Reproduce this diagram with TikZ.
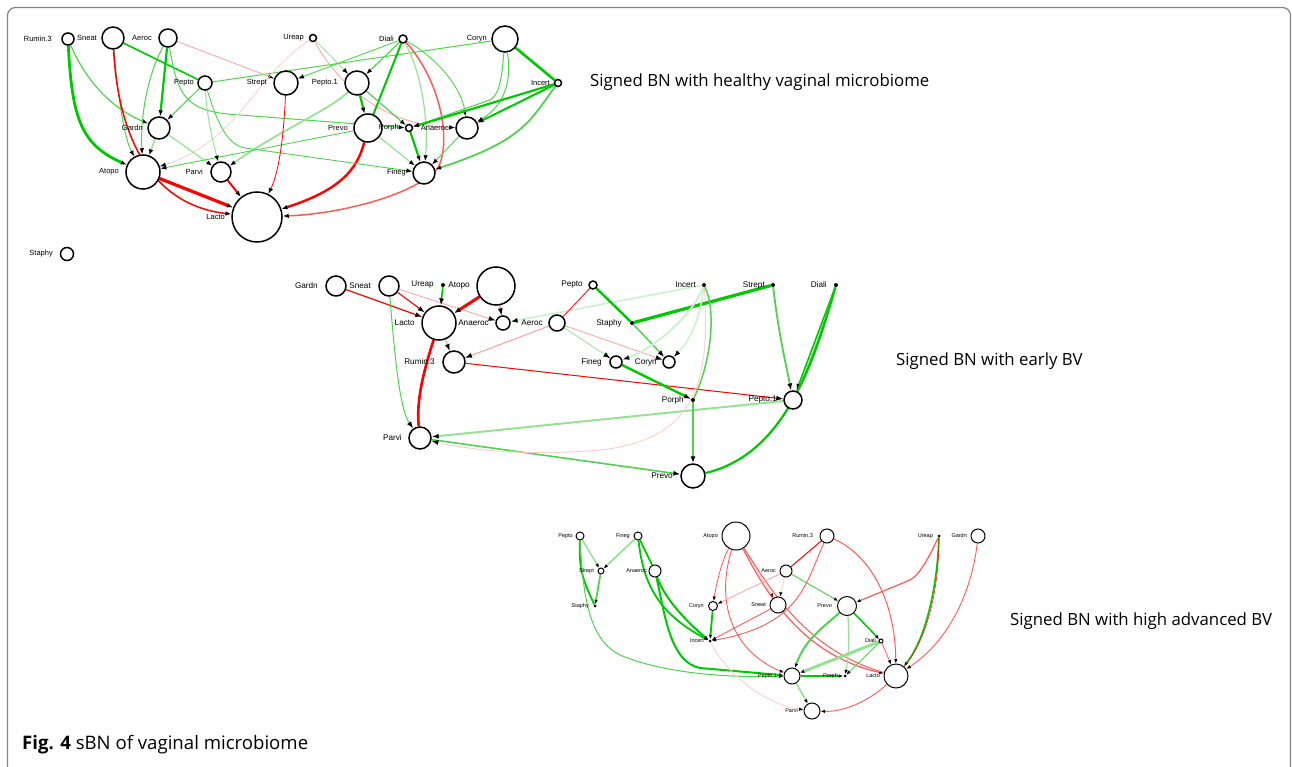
\documentclass[tikz,border=0pt]{standalone}
\usepackage{fontspec}
\usetikzlibrary{arrows.meta,backgrounds}
\newfontfamily\labfont{Liberation Sans}
\newfontfamily\ttlfont{Open Sans}
\definecolor{gA}{RGB}{0,200,0}
\definecolor{gB}{RGB}{80,210,80}
\definecolor{gC}{RGB}{150,225,150}
\definecolor{gD}{RGB}{205,240,205}
\definecolor{rA}{RGB}{255,0,0}
\definecolor{rB}{RGB}{255,90,90}
\definecolor{rC}{RGB}{255,160,160}
\definecolor{rD}{RGB}{255,205,205}
\definecolor{frame}{RGB}{130,130,130}
\tikzset{
  bnode/.style={circle, draw=black, fill=white, line width=1.5pt, inner sep=0pt, minimum size=#1},
  snode/.style={circle, draw=black, fill=white, line width=1pt, inner sep=0pt, minimum size=#1},
  dotn/.style={circle, fill=black, inner sep=0pt, minimum size=#1},
  labA/.style={font=\labfont\fontsize{7.5}{8}\selectfont, inner sep=0pt, anchor=east},
  labB/.style={font=\labfont\fontsize{8.2}{9}\selectfont, inner sep=0pt, anchor=east},
  labC/.style={font=\labfont\fontsize{5.5}{6}\selectfont, inner sep=0pt, anchor=east},
  tipA/.style={-{Latex[length=6pt,width=4.5pt,color=black]}},
  tipB/.style={-{Latex[length=7pt,width=5pt,color=black]}},
  tipC/.style={-{Latex[length=4.5pt,width=3.5pt,color=black]}},
  title/.style={font=\ttlfont\fontsize{16.8}{18}\selectfont, inner sep=0pt, anchor=west},
}
% node: name, x, y, shape style, label right end, label text, label style
\newcommand\bnnode[7]{%
  \node[#4] (#1) at (#2,#3) {};
  \node[#7] (#1l) at (#5,#3) {#6};}
\begin{document}
\begin{tikzpicture}[x=1pt,y=-1pt]
\useasboundingbox (0,0) rectangle (1292,767);
\draw[frame, line width=1.2pt, rounded corners=8pt] (7.5,790) -- (7.5,7.5) -- (1290.5,7.5) -- (1290.5,790);

% ---------------- healthy vaginal microbiome ----------------
\bnnode{h-rum}{68}{39}{bnode=12pt}{52}{Rumin.3}{labA}
\bnnode{h-sne}{113}{38}{bnode=22pt}{97}{Sneat}{labA}
\bnnode{h-aer}{168}{38}{bnode=18pt}{152}{Aeroc}{labA}
\bnnode{h-ure}{313}{38}{bnode=7pt}{304}{Ureap}{labA}
\bnnode{h-dia}{403}{39}{bnode=8pt}{394}{Diali}{labA}
\bnnode{h-cor}{505}{39}{bnode=26pt}{487}{Coryn}{labA}
\bnnode{h-pep}{205}{83}{bnode=14pt}{194}{Pepto}{labA}
\bnnode{h-str}{286}{83}{bnode=24pt}{267}{Strept}{labA}
\bnnode{h-pe1}{357}{83}{bnode=24pt}{338}{Pepto.1}{labA}
\bnnode{h-inc}{558}{83}{bnode=7pt}{550}{Incert}{labA}
\bnnode{h-gar}{159}{128}{bnode=22pt}{143}{Gardn}{labA}
\bnnode{h-pre}{368}{128}{bnode=28pt}{348}{Prevo}{labA}
\bnnode{h-por}{409}{128}{bnode=7pt}{399}{Porph}{labA}
\bnnode{h-ana}{467}{128}{bnode=22pt}{449}{Anaeroc}{labA}
\bnnode{h-ato}{143}{172}{bnode=34pt}{119}{Atopo}{labA}
\bnnode{h-par}{221}{172}{bnode=20pt}{203}{Parvi}{labA}
\bnnode{h-fin}{424}{173}{bnode=22pt}{406}{Fineg}{labA}
\bnnode{h-lac}{257}{217}{bnode=50pt}{225}{Lacto}{labA}
\bnnode{h-sta}{67}{254}{bnode=13pt}{53}{Staphy}{labA}

\begin{pgfonlayer}{background}
\draw[gA, line width=2.8pt, tipA] (h-rum) .. controls (72,120) and (82,145) .. (h-ato);
\draw[gB, line width=1.2pt, tipA] (h-rum) .. controls (90,90) and (120,112) .. (h-gar);
\draw[gB, line width=1pt, tipA] (h-sne) .. controls (118,100) and (125,140) .. (h-ato);
\draw[rA, line width=1.5pt, tipA] (h-sne) .. controls (118,135) and (150,205) .. (h-lac);
\draw[gA, line width=1.6pt] (h-sne) -- (h-pep);
\draw[gB, line width=1pt] (h-pep) -- (h-cor);
\draw[gA, line width=2.2pt, tipA] (h-aer) -- (h-gar);
\draw[gB, line width=1pt, tipA] (h-aer) .. controls (150,70) and (140,110) .. (h-ato);
\draw[gB, line width=1pt, tipA] (h-aer) .. controls (178,100) and (188,112) .. (240,115) -- (h-por);
\draw[rC, line width=0.8pt, tipA] (h-aer) -- (h-str);
\draw[rD, line width=0.8pt, tipA] (h-ure) .. controls (255,75) and (240,140) .. (h-ato);
\draw[gC, line width=0.8pt, tipA] (h-ure) -- (h-pe1);
\draw[rC, line width=0.8pt, tipA] (h-ure) .. controls (335,80) and (380,125) .. (h-ana);
\draw[gB, line width=0.9pt, tipA] (h-dia) -- (h-str);
\draw[gB, line width=1.2pt, tipA] (h-dia) -- (h-pe1);
\draw[gA, line width=2pt] (h-dia) -- (h-pre);
\draw[gC, line width=1.2pt, tipA] (h-dia) .. controls (425,80) and (428,130) .. (h-fin);
\draw[gB, line width=0.9pt, tipA] (h-dia) .. controls (440,60) and (462,90) .. (h-ana);
\draw[rB, line width=1.5pt, tipA] (h-dia) .. controls (440,80) and (452,140) .. (438,168) .. controls (415,195) and (340,214) .. (h-lac);
\draw[gA, line width=2.6pt] (h-cor) -- (h-inc);
\draw[gB, line width=1pt, tipA] (h-cor) .. controls (502,75) and (500,95) .. (490,100) -- (h-por);
\draw[gB, line width=1pt, tipA] (h-cor) .. controls (512,80) and (505,105) .. (h-ana);
\draw[gA, line width=2.2pt, tipA] (h-inc) -- (h-por);
\draw[gA, line width=2pt, tipA] (h-inc) -- (h-ana);
\draw[gB, line width=1.8pt, tipA] (h-inc) .. controls (530,120) and (525,140) .. (h-fin);
\draw[gA, line width=2.2pt, tipA] (h-pe1) -- (h-pre);
\draw[gB, line width=1.2pt, tipA] (h-pe1) -- (h-por);
\draw[gC, line width=1.8pt, tipA] (h-pe1) .. controls (330,110) and (280,130) .. (h-par);
\draw[gB, line width=0.9pt, tipA] (h-pre) -- (h-ato);
\draw[gC, line width=1.2pt, tipA] (h-pre) -- (h-fin);
\draw[rA, line width=2.4pt, tipA] (h-pre) .. controls (357,170) and (340,190) .. (h-lac);
\draw[gA, line width=2.2pt, tipA] (h-por) -- (h-fin);
\draw[gB, line width=0.9pt, tipA] (h-ana) -- (h-fin);
\draw[gB, line width=1pt, tipA] (h-pep) -- (h-gar);
\draw[gC, line width=1pt, tipA] (h-pep) .. controls (207,120) and (215,150) .. (h-par);
\draw[gB, line width=0.9pt, tipA] (h-pep) .. controls (215,115) and (225,145) .. (245,148) -- (h-fin);
\draw[gC, line width=1.5pt, tipA] (h-gar) -- (h-ato);
\draw[gC, line width=1.2pt, tipA] (h-gar) -- (h-par);
\draw[rA, line width=0.8pt, tipA] (h-str) .. controls (284,130) and (280,170) .. (h-lac);
\draw[rA, line width=3.2pt, tipA] (h-ato) -- (h-lac);
\draw[rA, line width=2pt, tipA] (h-par) -- (h-lac);
\end{pgfonlayer}

\node[title] (t1) at (590,82) {Signed BN with healthy vaginal microbiome};

% ---------------- early BV ----------------
\bnnode{e-gar}{336}{286}{bnode=20pt}{318}{Gardn}{labB}
\bnnode{e-sne}{389}{286}{bnode=20pt}{371}{Sneat}{labB}
\bnnode{e-ure}{443}{285}{dotn=4pt}{434}{Ureap}{labB}
\bnnode{e-ato}{496}{286}{bnode=38pt}{470}{Atopo}{labB}
\bnnode{e-lac}{439}{323}{bnode=34pt}{415}{Lacto}{labB}
\bnnode{e-ana}{503}{323}{bnode=14pt}{489}{Anaeroc}{labB}
\bnnode{e-aer}{557}{323}{bnode=16pt}{543}{Aeroc}{labB}
\bnnode{e-rum}{454}{362}{bnode=22pt}{435}{Rumin.3}{labB}
\bnnode{e-par}{420}{438}{bnode=22pt}{402}{Parvi}{labB}
\bnnode{e-pep}{593}{285}{bnode=8pt}{583}{Pepto}{labB}
\bnnode{e-inc}{704}{285}{dotn=4pt}{696}{Incert}{labB}
\bnnode{e-str}{773}{285}{dotn=4pt}{765}{Strept}{labB}
\bnnode{e-dia}{836}{285}{dotn=4pt}{827}{Diali}{labB}
\bnnode{e-sta}{632}{323}{dotn=4pt}{622}{Staphy}{labB}
\bnnode{e-fin}{616}{362}{bnode=12pt}{602}{Fineg}{labB}
\bnnode{e-cor}{669}{362}{bnode=12pt}{657}{Coryn}{labB}
\bnnode{e-por}{693}{400}{dotn=4pt}{684}{Porph}{labB}
\bnnode{e-pe1}{793}{400}{bnode=18pt}{777}{Pepto.1}{labB}
\bnnode{e-pre}{693}{476}{bnode=24pt}{673}{Prevo}{labB}

\begin{pgfonlayer}{background}
\draw[rA, line width=1.2pt, tipB] (e-gar) -- (e-lac);
\draw[rA, line width=1.1pt, tipB] (e-sne) -- (e-lac);
\draw[rC, line width=0.8pt, tipB] (e-sne) -- (e-ana);
\draw[gB, line width=1pt, tipB] (e-sne) .. controls (395,360) and (400,410) .. (e-par);
\draw[gA, line width=1.6pt, tipB] (e-ure) -- (e-lac);
\draw[rA, line width=3pt, tipB] (e-ato) -- (e-lac);
\draw[rB, line width=0.9pt, tipB] (e-ato) -- (e-ana);
\draw[gD, line width=1.6pt, tipB] (e-inc) -- (e-ana);
\draw[rC, line width=1pt, tipB] (e-lac) -- (e-rum);
\draw[rC, line width=1pt, tipB] (e-aer) -- (e-rum);
\draw[rA, line width=2.6pt] (e-lac) .. controls (424,370) and (416,400) .. (e-par);
\draw[rA, line width=1pt, tipB] (e-rum) -- (e-pe1);
\draw[gC, line width=2pt, tipB] (e-pe1) -- (e-par);
\draw[gB, line width=1.6pt, tipB] (e-par) -- (e-pre);
\draw[rD, line width=0.9pt, tipB] (e-inc) .. controls (712,390) and (690,440) .. (600,450) .. controls (520,457) and (460,448) .. (e-par);
\draw[rA, line width=0.8pt] (e-pep) -- (e-aer);
\draw[gA, line width=2.4pt] (e-pep) -- (e-sta);
\draw[gB, line width=1.5pt, tipB] (e-sta) -- (e-cor);
\draw[gA, line width=3.2pt] (e-sta) -- (e-str);
\draw[gC, line width=0.8pt, tipB] (e-aer) -- (e-fin);
\draw[rC, line width=0.8pt, tipB] (e-aer) -- (e-cor);
\draw[gD, line width=2pt, tipB] (e-inc) .. controls (690,320) and (650,350) .. (e-fin);
\draw[gD, line width=1.5pt, tipB] (e-inc) .. controls (700,320) and (690,340) .. (e-cor);
\draw[gB, line width=1.5pt] (e-inc) .. controls (716,310) and (712,360) .. (e-por);
\draw[gA, line width=2.4pt, tipB] (e-fin) -- (e-por);
\draw[gB, line width=1.5pt, tipB] (e-por) -- (e-pre);
\draw[gB, line width=1.8pt, tipB] (e-str) .. controls (778,330) and (785,360) .. (e-pe1);
\draw[gA, line width=1.6pt, tipB] (e-dia) -- (e-pe1);
\draw[gB, line width=1.4pt] (e-dia) .. controls (825,320) and (812,360) .. (e-pe1);
\draw[gA, line width=2.2pt] (e-dia) .. controls (812,370) and (782,455) .. (e-pre);
\end{pgfonlayer}

\node[title] (t2) at (896,361) {Signed BN with early BV};

% ---------------- high advanced BV ----------------
\bnnode{a-pep}{580}{536}{snode=8pt}{573}{Pepto}{labC}
\bnnode{a-fin}{638}{536}{snode=8pt}{630}{Fineg}{labC}
\bnnode{a-str}{601}{571}{snode=6pt}{594}{Strept}{labC}
\bnnode{a-ana}{655}{571}{snode=12pt}{647}{Anaeroc}{labC}
\bnnode{a-sta}{595}{606}{dotn=3pt}{589}{Staphy}{labC}
\bnnode{a-ato}{736}{536}{snode=28pt}{718}{Atopo}{labC}
\bnnode{a-cor}{713}{606}{snode=9pt}{704}{Coryn}{labC}
\bnnode{a-inc}{710}{641}{dotn=3pt}{704}{Incert}{labC}
\bnnode{a-aer}{786}{571}{snode=12pt}{776}{Aeroc}{labC}
\bnnode{a-sne}{778}{605}{snode=16pt}{766}{Sneat}{labC}
\bnnode{a-rum}{827}{536}{snode=14pt}{813}{Rumin.3}{labC}
\bnnode{a-pre}{847}{606}{snode=19pt}{832}{Prevo}{labC}
\bnnode{a-ure}{939}{536}{dotn=3pt}{933}{Ureap}{labC}
\bnnode{a-gar}{978}{536}{snode=14pt}{967}{Gardn}{labC}
\bnnode{a-dia}{881}{641}{snode=4pt}{876}{Diali}{labC}
\bnnode{a-lac}{896}{676}{snode=24pt}{880}{Lacto}{labC}
\bnnode{a-por}{845}{676}{dotn=3pt}{838}{Porph}{labC}
\bnnode{a-pe1}{792}{676}{snode=16pt}{777}{Pepto.1}{labC}
\bnnode{a-par}{812}{711}{snode=16pt}{798}{Parvi}{labC}

\begin{pgfonlayer}{background}
\draw[gC, line width=1.5pt, tipC] (a-pep) -- (a-str);
\draw[gA, line width=1.8pt] (a-pep) .. controls (579,570) and (582,578) .. (a-sta);
\draw[gB, line width=1.8pt, tipC] (a-str) -- (a-sta);
\draw[gC, line width=1.8pt, tipC] (a-fin) -- (a-str);
\draw[gB, line width=1pt, tipC] (a-pep) .. controls (583,600) and (590,640) .. (620,655) .. controls (660,672) and (720,678) .. (a-pe1);
\draw[gA, line width=1.8pt, tipC] (a-fin) .. controls (643,580) and (655,612) .. (a-inc);
\draw[gA, line width=1.8pt] (a-fin) -- (a-ana);
\draw[gA, line width=2pt, tipC] (a-ana) .. controls (665,600) and (690,625) .. (a-inc);
\draw[gA, line width=2pt, tipC] (a-ana) .. controls (665,615) and (670,662) .. (700,668) -- (a-pe1);
\draw[gA, line width=1.8pt, tipC] (a-cor) -- (a-inc);
\draw[rB, line width=0.8pt, tipC] (a-ato) .. controls (722,560) and (716,585) .. (a-cor);
\draw[rB, line width=0.9pt, tipC] (a-ato) .. controls (716,600) and (730,650) .. (a-pe1);
\draw[rD, line width=0.8pt, tipC] (a-ato) -- (a-sne);
\draw[rB, line width=1.2pt, tipC] (a-ato) .. controls (765,590) and (800,655) .. (a-lac);
\draw[rB, line width=1pt] (a-ato) .. controls (770,588) and (805,650) .. (a-lac);
\draw[rC, line width=0.8pt, tipC] (a-aer) -- (a-cor);
\draw[rD, line width=0.8pt, tipC] (a-aer) -- (a-sne);
\draw[gB, line width=1pt, tipC] (a-aer) -- (a-pre);
\draw[rA, line width=1pt] (a-rum) -- (a-aer);
\draw[rB, line width=0.9pt, tipC] (a-rum) .. controls (805,585) and (800,625) .. (a-inc);
\draw[rB, line width=1pt, tipC] (a-rum) .. controls (870,555) and (895,600) .. (a-lac);
\draw[rB, line width=1.2pt, tipC] (a-ure) .. controls (930,555) and (920,575) .. (910,580) -- (a-pre);
\draw[gA, line width=1.6pt, tipC] (a-ure) .. controls (937,590) and (925,640) .. (a-lac);
\draw[rA, line width=0.5pt] (a-ure) .. controls (939,590) and (927,640) .. (a-lac);
\draw[rB, line width=0.9pt, tipC] (a-gar) .. controls (972,590) and (950,640) .. (a-lac);
\draw[rB, line width=0.9pt, tipC] (a-lac) .. controls (870,700) and (845,712) .. (a-par);
\draw[gA, line width=1.5pt, tipC] (a-pre) -- (a-dia);
\draw[gB, line width=2pt, tipC] (a-pre) .. controls (820,630) and (805,640) .. (a-pe1);
\draw[gC, line width=1.2pt, tipC] (a-pre) .. controls (850,640) and (848,660) .. (a-por);
\draw[gC, line width=3pt, tipC] (a-dia) -- (a-pe1);
\draw[gB, line width=0.9pt, tipC] (a-dia) -- (a-por);
\draw[rB, line width=0.8pt, tipC] (a-dia) -- (a-lac);
\draw[gA, line width=2pt, tipC] (a-pe1) -- (a-por);
\draw[gC, line width=1.6pt, tipC] (a-pe1) -- (a-par);
\draw[rB, line width=0.9pt, tipC] (a-sne) -- (a-inc);
\draw[rD, line width=0.8pt, tipC] (a-inc) .. controls (730,680) and (770,705) .. (a-par);
\end{pgfonlayer}

\node[title] (t3) at (1010,621) {Signed BN with high advanced BV};

\node[font=\ttlfont\fontsize{18.6}{20}\selectfont, inner sep=0pt, anchor=west] (cap) at (22,745) {{\bfseries Fig. 4} sBN of vaginal microbiome};
\end{tikzpicture}
\end{document}
